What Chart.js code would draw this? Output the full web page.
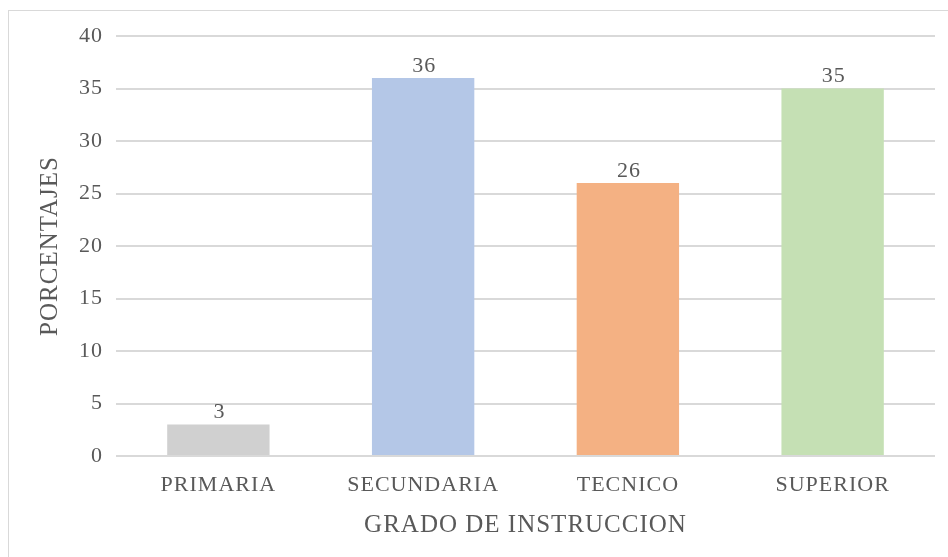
<!DOCTYPE html>
<html lang="es">
<head>
  <meta charset="UTF-8" />
  <title>Grado de instruccion</title>
  <script src="https://cdn.jsdelivr.net/npm/chart.js"></script>
  <style>
    html, body { margin: 0; padding: 0; background: #fff; overflow: hidden; }
    .frame {
      position: absolute; left: 8px; top: 10px; width: 960px; height: 580px;
      border: 1px solid #d9d9d9; box-sizing: border-box;
    }
    .wrap { position: absolute; left: 0; top: 0; width: 948px; height: 557px; }
  </style>
</head>
<body>
  <div class="frame"></div>
  <div class="wrap"><canvas id="grado"></canvas></div>

  <script>
    const categorias = ["PRIMARIA", "SECUNDARIA", "TECNICO", "SUPERIOR"];
    const porcentajes = [3, 36, 26, 35];
    const colores = ["#d0d0d0", "#b4c7e7", "#f4b183", "#c5e0b4"];
    const ticksY = [0, 5, 10, 15, 20, 25, 30, 35, 40];

    const serif = "'Liberation Serif', 'Times New Roman', serif";
    const gris = "#595959";

    // el texto del original es algo mas ancho: un poco de espaciado entre letras
    const espaciado = {
      id: "espaciado",
      beforeDraw(chart) { chart.ctx.letterSpacing = "1px"; }
    };

    // etiquetas encima de cada barra
    const etiquetas = {
      id: "etiquetas",
      afterDatasetsDraw(chart) {
        const ctx = chart.ctx;
        const meta = chart.getDatasetMeta(0);
        ctx.save();
        ctx.font = "22px " + serif;
        ctx.fillStyle = gris;
        ctx.textAlign = "center";
        ctx.textBaseline = "bottom";
        meta.data.forEach((bar, i) => {
          ctx.fillText(String(porcentajes[i]), bar.x + 1, bar.y - 1);
        });
        ctx.restore();
      }
    };

    new Chart(document.getElementById("grado"), {
      type: "bar",
      data: {
        labels: categorias,
        datasets: [{
          data: porcentajes,
          backgroundColor: colores,
          categoryPercentage: 1,
          barPercentage: 0.5
        }]
      },
      options: {
        responsive: true,
        maintainAspectRatio: false,
        animation: false,
        layout: { padding: { left: 0, right: 13, top: 36, bottom: 0 } },
        plugins: { legend: { display: false }, tooltip: { enabled: false } },
        scales: {
          x: {
            grid: { display: false, drawTicks: false },
            border: { display: false },
            ticks: { color: gris, font: { family: serif, size: 22 }, padding: 16 },
            title: {
              display: true, text: "GRADO DE INSTRUCCION",
              color: gris, font: { family: serif, size: 25 }, padding: { top: 0, bottom: 17 }
            },
            afterFit(scale) { scale.height = 101; }
          },
          y: {
            min: 0, max: 40,
            afterBuildTicks(scale) { scale.ticks = ticksY.map(v => ({ value: v })); },
            grid: { color: "#d9d9d9", lineWidth: 2, drawTicks: false },
            border: { display: false },
            ticks: { color: gris, font: { family: serif, size: 22 }, padding: 13 },
            title: {
              display: true, text: "PORCENTAJES",
              color: gris, font: { family: serif, size: 25 }, padding: { top: 35, bottom: 0 }
            },
            afterFit(scale) { scale.width = 116; }
          }
        }
      },
      plugins: [espaciado, etiquetas]
    });
  </script>
</body>
</html>
